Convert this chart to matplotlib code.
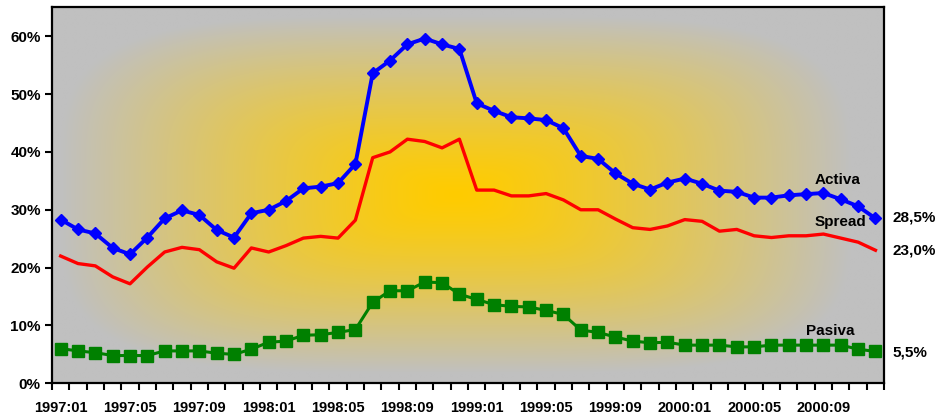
import numpy as np
import matplotlib.pyplot as plt
from matplotlib.ticker import FuncFormatter

# monthly series, 1997:01 .. 2000:12 (percent)
months = ['%d:%02d' % (y, m) for y in range(1997, 2001) for m in range(1, 13)]

activa = [28.3, 26.6, 25.9, 23.4, 22.3, 25.2, 28.5, 29.9, 29.1, 26.5, 25.2, 29.4,
          30.0, 31.5, 33.7, 34.0, 34.6, 37.9, 53.6, 55.8, 58.6, 59.6, 58.6, 57.8,
          48.4, 47.1, 46.0, 45.8, 45.5, 44.1, 39.3, 38.8, 36.3, 34.5, 33.5, 34.7,
          35.4, 34.5, 33.3, 33.1, 32.1, 32.1, 32.5, 32.7, 32.9, 31.8, 30.6, 28.5]

spread = [22.0, 20.7, 20.3, 18.4, 17.2, 20.1, 22.7, 23.5, 23.1, 21.0, 19.9, 23.4,
          22.7, 23.8, 25.1, 25.4, 25.1, 28.2, 39.0, 40.0, 42.2, 41.8, 40.7, 42.2,
          33.4, 33.4, 32.4, 32.4, 32.8, 31.7, 30.0, 30.0, 28.4, 26.9, 26.6, 27.2,
          28.3, 28.0, 26.3, 26.6, 25.5, 25.2, 25.5, 25.5, 25.8, 25.1, 24.4, 23.0]

pasiva = [6.0, 5.6, 5.3, 4.8, 4.8, 4.8, 5.6, 5.6, 5.6, 5.2, 5.0, 5.9,
          7.1, 7.3, 8.3, 8.4, 8.8, 9.3, 14.0, 16.0, 16.0, 17.5, 17.4, 15.4,
          14.5, 13.6, 13.3, 13.2, 12.6, 11.9, 9.2, 8.8, 8.0, 7.3, 7.0, 7.1,
          6.6, 6.6, 6.6, 6.3, 6.3, 6.6, 6.6, 6.6, 6.6, 6.6, 5.9, 5.5]

x = np.arange(len(months))
ymax = 65

fig = plt.figure(figsize=(9.35, 4.17), dpi=100)
ax = fig.add_axes([0.0556, 0.0808, 0.89, 0.9017])

# gray -> yellow "from center" gradient, rounded-rectangle shaped
ny, nx = 300, 600
gx = np.linspace(-1, 1, nx) + 0.03
gy = np.linspace(-1, 1, ny)
GX, GY = np.meshgrid(gx, gy)
t = (np.abs(GX) ** 4 + np.abs(GY) ** 4) ** 0.25
t = np.clip(t / 0.95, 0, 1) ** 1.3
center = np.array([255, 204, 0]) / 255.0
edge = np.array([192, 192, 192]) / 255.0
img = center[None, None, :] + (edge - center)[None, None, :] * t[:, :, None]
ax.imshow(img, extent=(-0.5, len(months) - 0.5, 0, ymax), aspect='auto',
          zorder=0, interpolation='bilinear')

ax.plot(x, spread, color='#ff0000', lw=2.4, zorder=3)
ax.plot(x, pasiva, color='#008000', lw=2.2, marker='s', ms=8, zorder=3)
ax.plot(x, activa, color='#0000ff', lw=2.8, marker='D', ms=6.5, zorder=4)

ax.set_xlim(-0.5, len(months) - 0.5)
ax.set_ylim(0, ymax)

for s in ax.spines.values():
    s.set_linewidth(1.6)
    s.set_color('black')

ax.set_yticks(range(0, 61, 10))
ax.yaxis.set_major_formatter(FuncFormatter(lambda v, p: '%d%%' % v))
ax.tick_params(axis='y', length=5, width=1.5, pad=3, labelsize=11)

ax.set_xticks(x[::4])
ax.set_xticklabels(months[::4])
ax.set_xticks(np.arange(-0.5, len(months)), minor=True)
ax.tick_params(axis='x', which='major', length=0, pad=13, labelsize=10.5)
ax.tick_params(axis='x', which='minor', length=5, width=1.5)

for lab in ax.get_yticklabels() + ax.get_xticklabels():
    lab.set_fontfamily(['Liberation Sans', 'DejaVu Sans'])
    lab.set_fontweight('bold')

font = dict(family=['Liberation Sans', 'DejaVu Sans'], weight='bold', size=11)

# series names
ax.text(44.8, 35.1, 'Activa', ha='center', va='center', **font)
ax.text(45.0, 27.9, 'Spread', ha='center', va='center', **font)
ax.text(44.4, 9.1, 'Pasiva', ha='center', va='center', **font)

# last values, to the right of the frame
for v, dy in [(activa[-1], 1), (spread[-1], 0), (pasiva[-1], -1)]:
    ax.annotate(('%.1f' % v).replace('.', ',') + '%', xy=(len(months) - 1, v),
                xytext=(12, dy), textcoords='offset points', ha='left',
                va='center', annotation_clip=False, **font)

fig.savefig('out.png', dpi=100)
